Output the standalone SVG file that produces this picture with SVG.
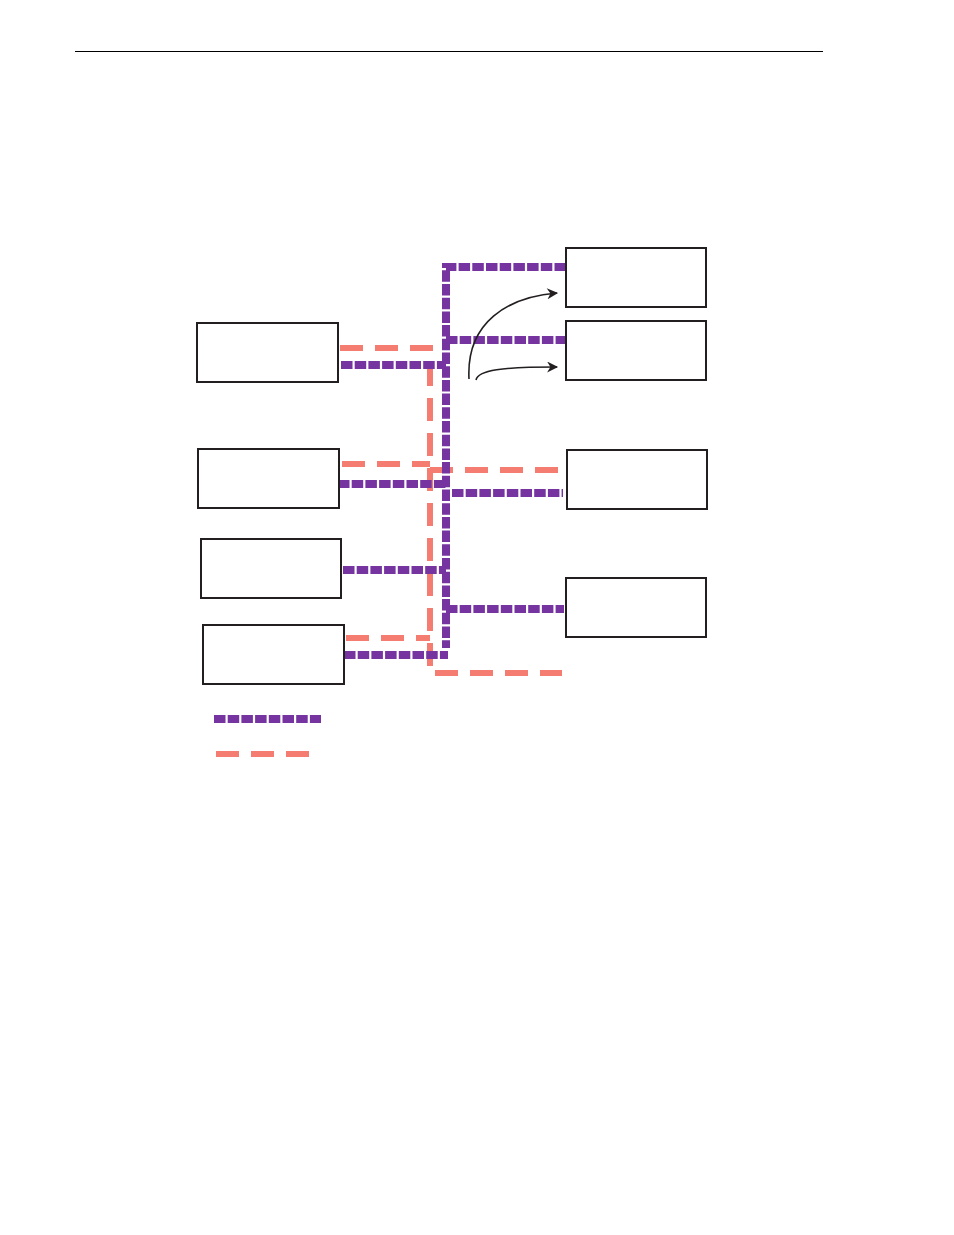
<svg xmlns="http://www.w3.org/2000/svg" width="954" height="1235" viewBox="0 0 954 1235">
<style>
.box{fill:#fff;stroke:#231f20;stroke-width:2}
.pur{fill:none;stroke:#7634a0;stroke-width:8;stroke-dasharray:11.5 2.2}
.sal{fill:none;stroke:#f47c70;stroke-width:6;stroke-dasharray:23 12}
.arr{fill:none;stroke:#231f20;stroke-width:1.6}
</style>
<defs>
<marker id="ah" viewBox="0 0 10 10" refX="9" refY="5" markerWidth="12" markerHeight="11" markerUnits="userSpaceOnUse" orient="auto">
<path d="M0,0 L10,5 L0,10 L3,5 Z" fill="#231f20"/>
</marker>
</defs>
<line x1="75" y1="51.5" x2="823" y2="51.5" stroke="#000" stroke-width="1.2"/>
<g id="connectors">
<path class="sal" d="M340,348 H430 V673 H562"/>
<path class="sal" d="M342,464 H430"/>
<path class="sal" d="M430,470 H562"/>
<path class="sal" d="M346,638 H430"/>
<path class="pur" d="M566,267 H446 V648"/>
<path class="pur" d="M446,340 H566"/>
<path class="pur" d="M341,365 H446"/>
<path class="pur" d="M338,484 H446"/>
<path class="pur" d="M452,493 H563"/>
<path class="pur" d="M343,570 H446"/>
<path class="pur" d="M446,609 H564"/>
<path class="pur" d="M344,655 H448"/>
<path class="arr" d="M469,379 C466,322 508,297 557,293" marker-end="url(#ah)"/>
<path class="arr" d="M476,380 C478,370 502,367 557,367" marker-end="url(#ah)"/>
</g>
<g id="legend">
<line class="pur" x1="214" y1="719" x2="321" y2="719"/>
<line class="sal" x1="216" y1="754" x2="309" y2="754"/>
</g>
<g id="nodeL1"><rect class="box" x="197" y="323" width="141" height="59"/></g>
<g id="nodeL2"><rect class="box" x="198" y="449" width="141" height="59"/></g>
<g id="nodeL3"><rect class="box" x="201" y="539" width="140" height="59"/></g>
<g id="nodeL4"><rect class="box" x="203" y="625" width="141" height="59"/></g>
<g id="nodeR1"><rect class="box" x="566" y="248" width="140" height="59"/></g>
<g id="nodeR2"><rect class="box" x="566" y="321" width="140" height="59"/></g>
<g id="nodeR3"><rect class="box" x="567" y="450" width="140" height="59"/></g>
<g id="nodeR4"><rect class="box" x="566" y="578" width="140" height="59"/></g>
</svg>
